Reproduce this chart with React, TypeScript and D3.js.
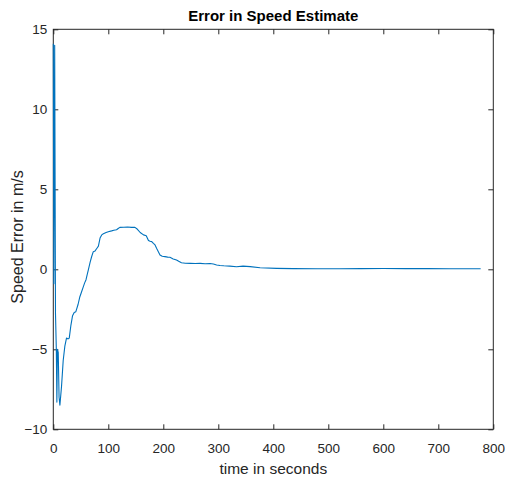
import React, { useEffect, useRef } from 'react';
import * as d3 from 'd3';

// time (s) and speed error (m/s)
const times = [0, 1, 2.5, 4, 5.5, 6.5, 7.5, 9, 10.5, 12, 15, 18, 21, 24, 27, 29, 32, 35, 38, 41, 45, 48, 51, 54.5, 57, 59.5, 61.5, 63.6, 67, 69.8, 72.7, 76, 78, 80, 82, 85, 88, 91, 96, 100, 106, 110, 115, 118, 121, 128, 135, 142, 148.5, 153, 158, 164, 169, 173, 176, 179, 182, 185, 188, 191, 194, 198, 203, 208, 212, 218, 224, 228, 233, 240, 249, 258, 267, 276, 285, 291, 297, 303, 310, 321, 333, 345, 358, 376, 406, 436, 480, 520, 560, 600, 640, 680, 720, 760, 777];
const speedError = [14.1, -0.9, 14.0, -2.8, -5.0, -8.3, -5.0, -5.2, -8.0, -8.5, -7.3, -5.7, -4.8, -4.3, -4.35, -4.3, -3.5, -2.9, -2.7, -2.65, -2.2, -1.75, -1.45, -1.1, -0.85, -0.65, -0.35, -0.05, 0.45, 0.8, 1.1, 1.15, 1.25, 1.35, 1.45, 1.95, 2.15, 2.22, 2.3, 2.35, 2.4, 2.44, 2.47, 2.55, 2.62, 2.63, 2.64, 2.62, 2.62, 2.5, 2.3, 2.15, 2.1, 1.8, 1.75, 1.73, 1.62, 1.52, 1.3, 1.1, 0.9, 0.82, 0.79, 0.76, 0.75, 0.65, 0.58, 0.5, 0.41, 0.38, 0.37, 0.36, 0.37, 0.35, 0.36, 0.33, 0.27, 0.24, 0.22, 0.2, 0.16, 0.2, 0.17, 0.1, 0.06, 0.04, 0.03, 0.03, 0.04, 0.05, 0.04, 0.04, 0.03, 0.03, 0.03];
const xTicks = [0, 100, 200, 300, 400, 500, 600, 700, 800];
const yTicks = [-10, -5, 0, 5, 10, 15];

const W = 505, H = 477;
const margin = { top: 29.3, right: 11.7, bottom: 47.7, left: 53.3 };

export default function App() {
  const ref = useRef<SVGSVGElement>(null);

  useEffect(() => {
    const svg = d3.select(ref.current);
    svg.selectAll('*').remove();

    const width = W - margin.left - margin.right;
    const height = H - margin.top - margin.bottom;
    const x = d3.scaleLinear().domain([0, 800]).range([0, width]);
    const y = d3.scaleLinear().domain([-10, 15]).range([height, 0]);

    const g = svg.append('g').attr('transform', `translate(${margin.left},${margin.top})`);
    const axisColor = '#262626';
    const font = '"Liberation Sans", Arial, sans-serif';

    const styleAxis = (a: any) => {
      a.select('.domain').remove();
      a.selectAll('line').attr('stroke', axisColor);
      a.selectAll('text').attr('fill', axisColor).attr('font-size', 13.5).attr('font-family', font);
    };

    // bottom + top
    g.append('g').attr('transform', `translate(0,${height})`)
      .call(d3.axisBottom(x).tickValues(xTicks).tickSizeInner(-5).tickSizeOuter(0).tickPadding(14))
      .call(styleAxis);
    g.append('g')
      .call(d3.axisTop(x).tickValues(xTicks).tickSizeInner(-5).tickSizeOuter(0).tickFormat(() => ''))
      .call(styleAxis);
    // left + right
    g.append('g')
      .call(d3.axisLeft(y).tickValues(yTicks).tickSizeInner(-5).tickSizeOuter(0).tickPadding(6))
      .call(styleAxis);
    g.append('g').attr('transform', `translate(${width},0)`)
      .call(d3.axisRight(y).tickValues(yTicks).tickSizeInner(-5).tickSizeOuter(0).tickFormat(() => ''))
      .call(styleAxis);

    g.append('rect')
      .attr('width', width).attr('height', height)
      .attr('fill', 'none').attr('stroke', axisColor).attr('stroke-width', 1);

    const line = d3.line<number>()
      .x((d, i) => x(times[i]))
      .y(d => y(d));

    g.append('path')
      .datum(speedError)
      .attr('d', line)
      .attr('fill', 'none')
      .attr('stroke', '#0072BD')
      .attr('stroke-width', 1.1)
      .attr('stroke-linejoin', 'round');

    svg.append('text')
      .attr('x', margin.left + width / 2).attr('y', 21)
      .attr('text-anchor', 'middle')
      .attr('font-family', font).attr('font-size', 15).attr('font-weight', 'bold')
      .attr('fill', '#000')
      .text('Error in Speed Estimate');

    svg.append('text')
      .attr('x', margin.left + width / 2).attr('y', 474)
      .attr('text-anchor', 'middle')
      .attr('font-family', font).attr('font-size', 15.5)
      .attr('fill', axisColor)
      .text('time in seconds');

    svg.append('text')
      .attr('transform', `translate(23,237) rotate(-90)`)
      .attr('text-anchor', 'middle')
      .attr('font-family', font).attr('font-size', 16)
      .attr('fill', axisColor)
      .text('Speed Error in m/s');
  }, []);

  return (
    <svg ref={ref} width={W} height={H}
      style={{ position: 'absolute', left: 0, top: 0, background: '#fff' }} />
  );
}
